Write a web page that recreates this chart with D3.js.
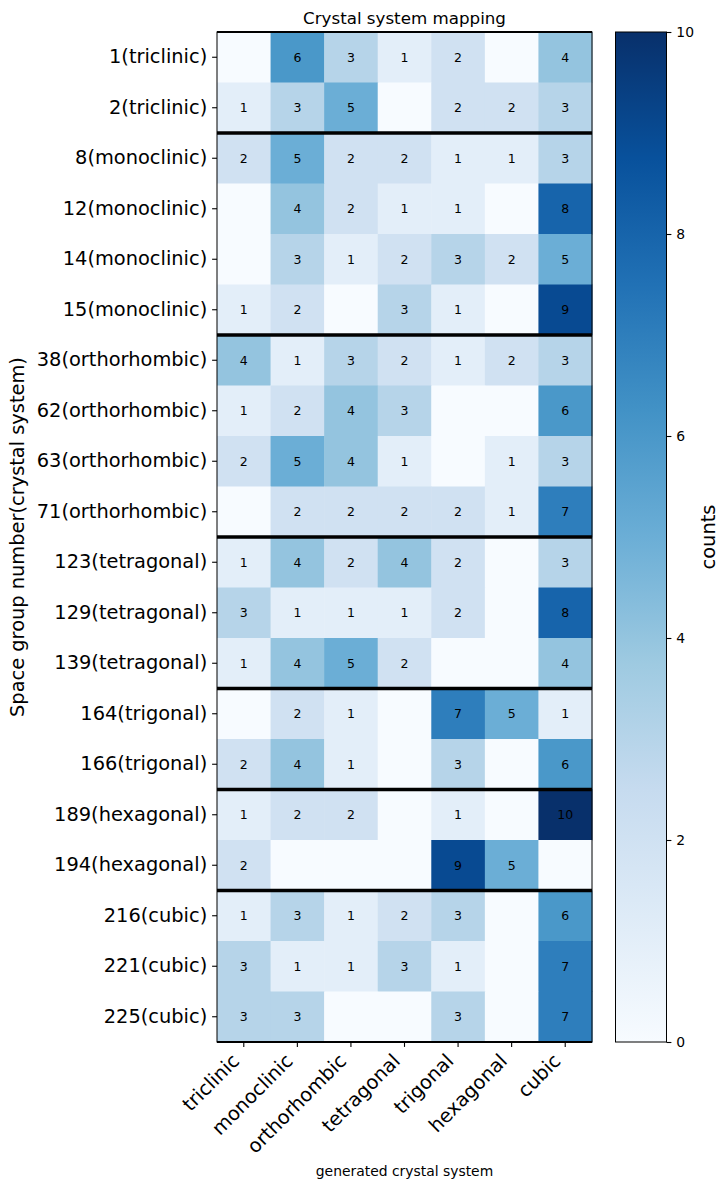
<!DOCTYPE html>
<html>
<head>
<meta charset="utf-8">
<script src="https://cdn.jsdelivr.net/npm/d3@7"></script>
<style>
  body { margin: 0; background: #fff; }
  svg { font-family: "DejaVu Sans", sans-serif; }
</style>
</head>
<body>
<svg id="chart" width="727" height="1189"></svg>
<script>
// row labels: space group number + crystal system
const spaceGroups = [1, 2, 8, 12, 14, 15, 38, 62, 63, 71, 123, 129, 139, 164, 166, 189, 194, 216, 221, 225];
const groupSystems = ['triclinic', 'triclinic', 'monoclinic', 'monoclinic', 'monoclinic', 'monoclinic',
  'orthorhombic', 'orthorhombic', 'orthorhombic', 'orthorhombic', 'tetragonal', 'tetragonal', 'tetragonal',
  'trigonal', 'trigonal', 'hexagonal', 'hexagonal', 'cubic', 'cubic', 'cubic'];

// generated crystal systems (columns)
const systems = ['triclinic', 'monoclinic', 'orthorhombic', 'tetragonal', 'trigonal', 'hexagonal', 'cubic'];

// counts, one row per space group
const counts = [
  [0, 6, 3, 1, 2, 0, 4],
  [1, 3, 5, 0, 2, 2, 3],
  [2, 5, 2, 2, 1, 1, 3],
  [0, 4, 2, 1, 1, 0, 8],
  [0, 3, 1, 2, 3, 2, 5],
  [1, 2, 0, 3, 1, 0, 9],
  [4, 1, 3, 2, 1, 2, 3],
  [1, 2, 4, 3, 0, 0, 6],
  [2, 5, 4, 1, 0, 1, 3],
  [0, 2, 2, 2, 2, 1, 7],
  [1, 4, 2, 4, 2, 0, 3],
  [3, 1, 1, 1, 2, 0, 8],
  [1, 4, 5, 2, 0, 0, 4],
  [0, 2, 1, 0, 7, 5, 1],
  [2, 4, 1, 0, 3, 0, 6],
  [1, 2, 2, 0, 1, 0, 10],
  [2, 0, 0, 0, 9, 5, 0],
  [1, 3, 1, 2, 3, 0, 6],
  [3, 1, 1, 3, 1, 0, 7],
  [3, 3, 0, 0, 3, 0, 7],
];

const colorTicks = [0, 2, 4, 6, 8, 10];

// matplotlib "Blues" is linear between the 9 ColorBrewer stops
const bluesStops = ['#f7fbff', '#deebf7', '#c6dbef', '#9ecae1', '#6baed6', '#4292c6', '#2171b5', '#08519c', '#08306b'];

const rowLabels = spaceGroups.map((g, i) => `${g}(${groupSystems[i]})`);

const area = { left: 217, right: 592, top: 32, bottom: 1042 };
const cbar = { left: 615.5, right: 666.5 };

const svg = d3.select('#chart');

const x = d3.scaleBand().domain(systems).range([area.left, area.right]);
const y = d3.scaleBand().domain(rowLabels).range([area.top, area.bottom]);

const vmax = 10;
const color = d3.scaleLinear()
  .domain(bluesStops.map((_, i) => i * vmax / (bluesStops.length - 1)))
  .range(bluesStops)
  .interpolate(d3.interpolateRgb);

const cells = counts.flatMap((row, i) =>
  row.map((v, j) => ({ row: rowLabels[i], col: systems[j], value: v })));

// heatmap cells
svg.append('g')
  .selectAll('rect')
  .data(cells)
  .join('rect')
  .attr('x', d => x(d.col))
  .attr('y', d => y(d.row))
  .attr('width', x.bandwidth() + 0.5)
  .attr('height', y.bandwidth() + 0.5)
  .attr('fill', d => color(d.value));

// annotations (zeros left blank)
svg.append('g')
  .selectAll('text')
  .data(cells.filter(d => d.value > 0))
  .join('text')
  .attr('x', d => x(d.col) + x.bandwidth() / 2)
  .attr('y', d => y(d.row) + y.bandwidth() / 2)
  .attr('text-anchor', 'middle')
  .attr('dy', '0.36em')
  .style('font-size', '12.5px')
  .text(d => d.value);

// frame
svg.append('rect')
  .attr('x', area.left).attr('y', area.top)
  .attr('width', area.right - area.left).attr('height', area.bottom - area.top)
  .attr('fill', 'none').attr('stroke', '#000').attr('stroke-width', 1);

// thick lines where the crystal system of the rows changes (plus top / bottom)
const breaks = [0];
groupSystems.forEach((s, i) => { if (i > 0 && s !== groupSystems[i - 1]) breaks.push(i); });
breaks.push(rowLabels.length);
svg.append('g')
  .selectAll('line')
  .data(breaks)
  .join('line')
  .attr('x1', area.left)
  .attr('x2', area.right)
  .attr('y1', i => i === rowLabels.length ? area.bottom : y(rowLabels[i]))
  .attr('y2', i => i === rowLabels.length ? area.bottom : y(rowLabels[i]))
  .attr('stroke', '#000')
  .attr('stroke-width', i => (i === 0 || i === rowLabels.length) ? 2.2 : 3.5);

// y axis
const yAxis = svg.append('g')
  .attr('transform', `translate(${area.left},0)`)
  .call(d3.axisLeft(y).tickSize(4.9).tickPadding(4.9));
yAxis.select('.domain').remove();
yAxis.selectAll('.tick line').attr('stroke-width', 1.1);
yAxis.selectAll('.tick text')
  .style('font-size', '19.4px')
  .style('font-family', '"DejaVu Sans", sans-serif')
  .attr('fill', '#000');

// x axis
const xAxis = svg.append('g')
  .attr('transform', `translate(0,${area.bottom})`)
  .call(d3.axisBottom(x).tickSize(4.9).tickFormat(''));
xAxis.select('.domain').remove();
xAxis.selectAll('.tick line').attr('stroke-width', 1.1);

const labelTop = area.bottom + 4.9 + 4.9;
svg.append('g')
  .selectAll('text')
  .data(systems)
  .join('text')
  .attr('transform', d =>
    `translate(${x(d) + x.bandwidth() / 2 - 3.3},${labelTop + 10.4}) rotate(-45)`)
  .attr('text-anchor', 'end')
  .style('font-size', '19.4px')
  .text(d => d);

// titles
svg.append('text')
  .attr('x', (area.left + area.right) / 2)
  .attr('y', 24)
  .attr('text-anchor', 'middle')
  .style('font-size', '16.7px')
  .text('Crystal system mapping');

svg.append('text')
  .attr('x', (area.left + area.right) / 2)
  .attr('y', 1176)
  .attr('text-anchor', 'middle')
  .style('font-size', '13.9px')
  .text('generated crystal system');

svg.append('text')
  .attr('transform', `translate(24,${(area.top + area.bottom) / 2}) rotate(-90)`)
  .attr('text-anchor', 'middle')
  .style('font-size', '19.4px')
  .text('Space group number(crystal system)');

// colorbar
const defs = svg.append('defs');
const grad = defs.append('linearGradient')
  .attr('id', 'cbar-grad')
  .attr('x1', 0).attr('y1', 1).attr('x2', 0).attr('y2', 0);
grad.selectAll('stop')
  .data(bluesStops)
  .join('stop')
  .attr('offset', (_, i) => i / (bluesStops.length - 1))
  .attr('stop-color', d => d);

svg.append('rect')
  .attr('x', cbar.left).attr('y', area.top)
  .attr('width', cbar.right - cbar.left).attr('height', area.bottom - area.top)
  .attr('fill', 'url(#cbar-grad)')
  .attr('stroke', '#000').attr('stroke-width', 1);

const cScale = d3.scaleLinear().domain([0, vmax]).range([area.bottom, area.top]);
const cAxis = svg.append('g')
  .attr('transform', `translate(${cbar.right},0)`)
  .call(d3.axisRight(cScale).tickValues(colorTicks).tickSize(4.9).tickPadding(4.9));
cAxis.select('.domain').remove();
cAxis.selectAll('.tick line').attr('stroke-width', 1.1);
cAxis.selectAll('.tick text')
  .style('font-size', '13.9px')
  .style('font-family', '"DejaVu Sans", sans-serif')
  .attr('fill', '#000');

svg.append('text')
  .attr('transform', `translate(715,${(area.top + area.bottom) / 2}) rotate(-90)`)
  .attr('text-anchor', 'middle')
  .style('font-size', '19.4px')
  .text('counts');
</script>
</body>
</html>
